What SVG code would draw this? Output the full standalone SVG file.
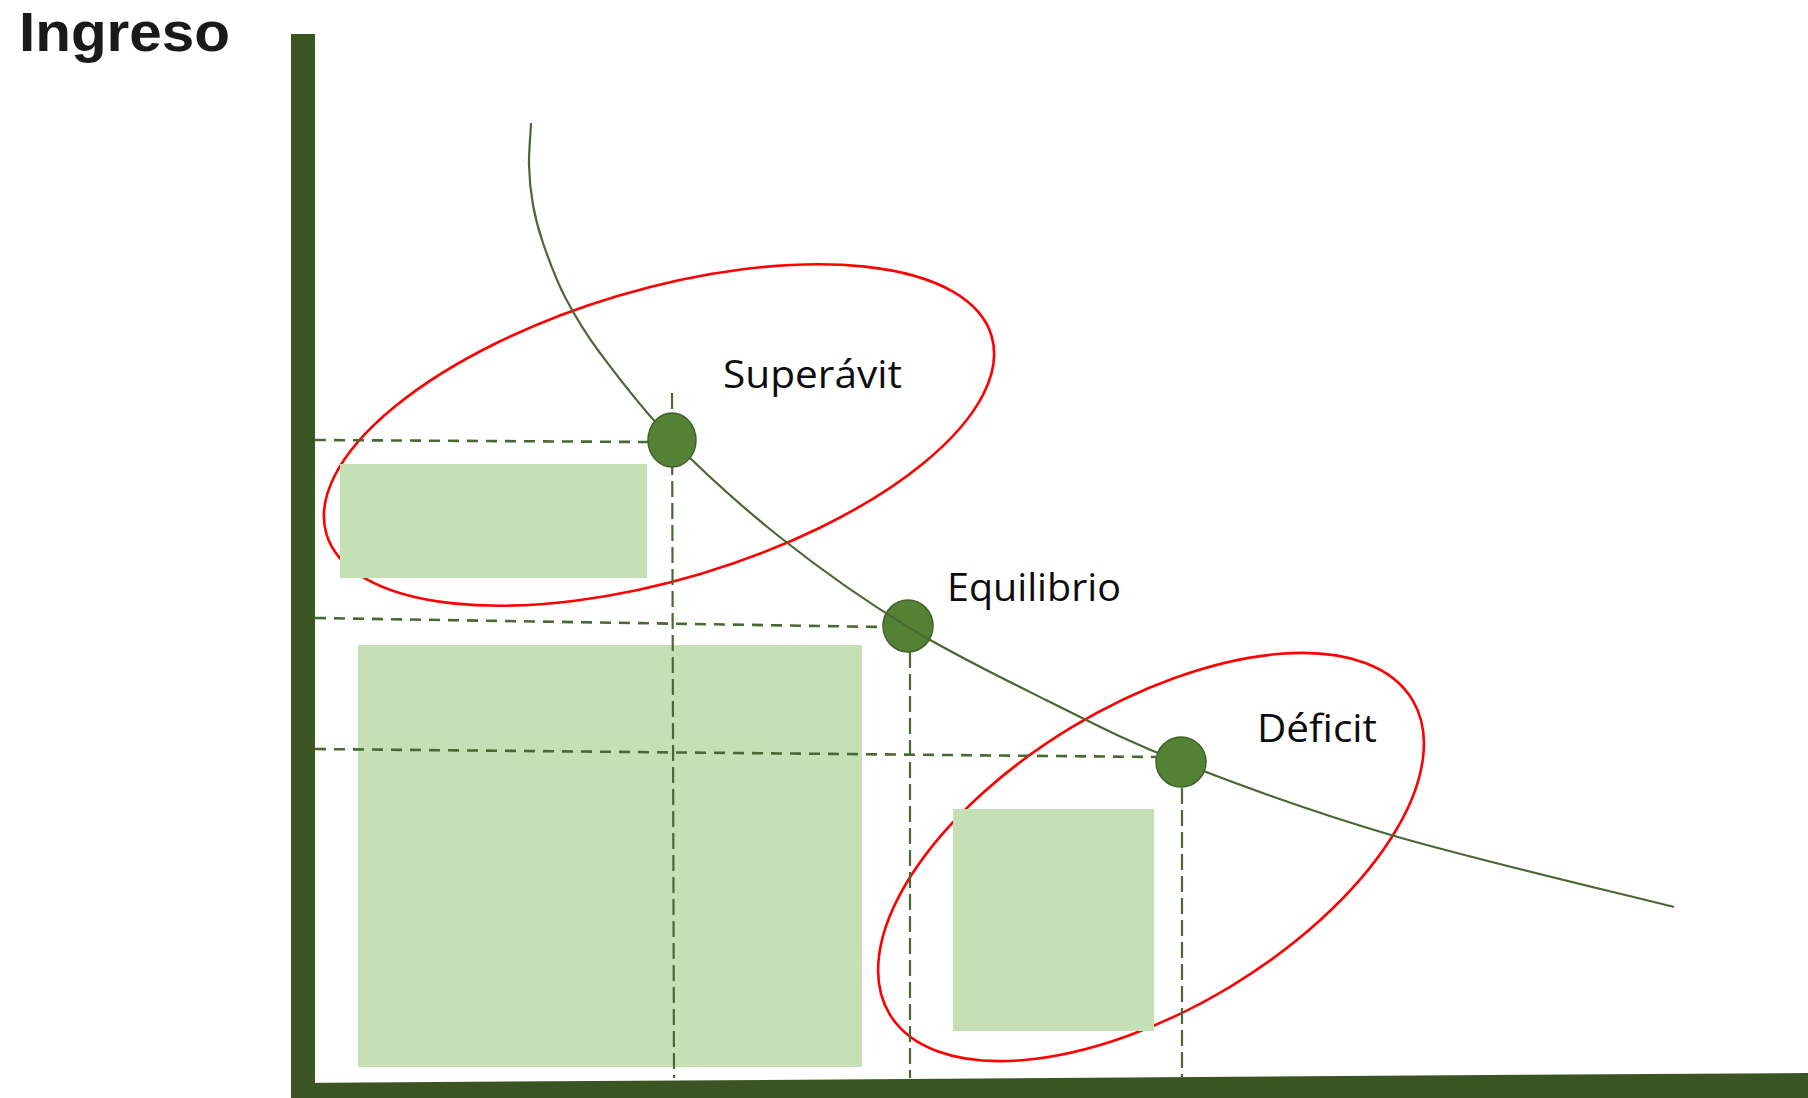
<svg xmlns="http://www.w3.org/2000/svg" width="1808" height="1098" viewBox="0 0 1808 1098">
  <style>
    .halo { fill: none; stroke: #ff0000; stroke-width: 2.6; }
    .area { fill: #c5e0b4; }
    .guide { fill: none; stroke: #4a6834; stroke-width: 2.6; stroke-dasharray: 11 8; }
    .guidev { fill: none; stroke: #4a6834; stroke-width: 2.2; stroke-dasharray: 16 6; }
    .curve { fill: none; stroke: #4a6834; stroke-width: 2.2; }
    .dot { fill: #548235; stroke: #41612b; stroke-width: 1.5; }
    .axis { fill: #3a5422; }
    .lbl { font-family: "Open Sans", "Liberation Sans", sans-serif; font-size: 38px; fill: #0d0d0d; }
    .title { font-family: "Liberation Sans", "Open Sans", sans-serif; font-size: 55px; font-weight: bold; fill: #1a1a1a; }
  </style>

  <g id="halo-superavit">
    <ellipse class="halo" cx="659" cy="435" rx="347" ry="145" transform="rotate(-16.6 659 435)"/>
  </g>
  <g id="halo-deficit">
    <ellipse class="halo" cx="1151" cy="857" rx="305" ry="152" transform="rotate(-31 1151 857)"/>
  </g>

  <g id="area-superavit"><rect class="area" x="340" y="464" width="307" height="114"/></g>
  <g id="area-equilibrio"><rect class="area" x="358" y="645" width="504" height="422"/></g>
  <g id="area-deficit"><rect class="area" x="953" y="809" width="201" height="222"/></g>

  <g id="connectors">
    <line class="guide" x1="315" y1="440" x2="648" y2="442"/>
    <line class="guide" x1="315" y1="618" x2="883" y2="627"/>
    <line class="guide" x1="315" y1="749" x2="1156" y2="757"/>
    <line class="guidev" x1="672" y1="393" x2="674" y2="1078"/>
    <line class="guidev" x1="910" y1="652" x2="910" y2="1078"/>
    <line class="guidev" x1="1182" y1="788" x2="1182" y2="1077"/>
  </g>

  <g id="point-equilibrio">
    <ellipse class="dot" cx="908" cy="626" rx="25" ry="26"/>
  </g>

  <g id="curve">
    <path class="curve" d="M531,123 C530.5,137 528.7,151.3 529,165 C529.3,178.7 530.7,192 533,205 C535.3,218 537.7,227.7 543,243 C548.3,258.3 555.5,278.7 565,297 C574.5,315.3 582.2,329.2 600,353 C617.8,376.8 641.8,409.2 672,440 C702.2,470.8 741.7,506.8 781,538 C820.3,569.2 863.8,600 908,627 C952.2,654 1000.7,677.5 1046,700 C1091.3,722.5 1122.5,739.5 1180,762 C1237.5,784.5 1308.7,810.8 1391,835 C1473.3,859.2 1626.8,895 1674,907"/>
  </g>

  <g id="point-superavit">
    <ellipse class="dot" cx="672" cy="440" rx="24" ry="27"/>
  </g>
  <g id="point-deficit">
    <ellipse class="dot" cx="1181" cy="762" rx="25" ry="25"/>
  </g>

  <g id="axes">
    <rect class="axis" x="291" y="34" width="24" height="1064"/>
    <polygon class="axis" points="291,1083 1808,1073 1808,1098 291,1098"/>
  </g>

  <g id="labels">
    <text class="title" x="19" y="51" textLength="211" lengthAdjust="spacingAndGlyphs">Ingreso</text>
    <text class="lbl" x="723" y="388" textLength="179" lengthAdjust="spacingAndGlyphs">Superávit</text>
    <text class="lbl" x="947" y="601" textLength="174" lengthAdjust="spacingAndGlyphs">Equilibrio</text>
    <text class="lbl" x="1257" y="742" textLength="120" lengthAdjust="spacingAndGlyphs">Déficit</text>
  </g>
</svg>
